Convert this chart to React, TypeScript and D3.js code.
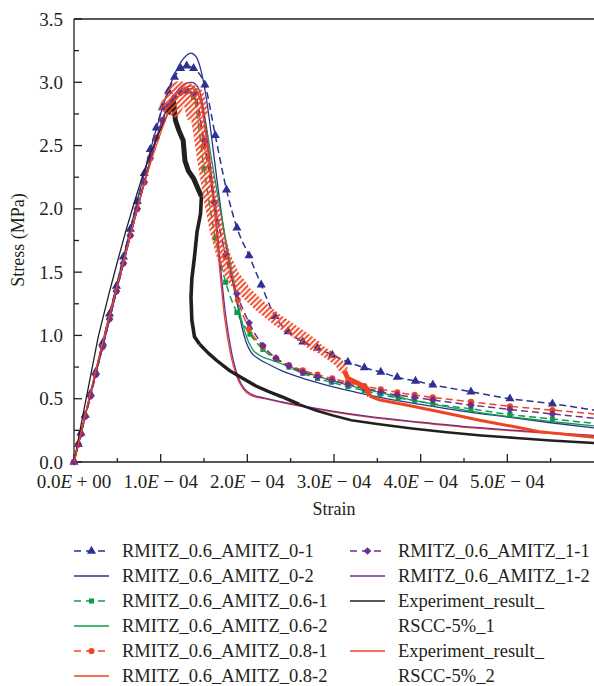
import React from 'react';
import * as d3 from 'd3';

type P = [number, number];

const W = 594;
const H = 686;

// strain in units of 1e-4, stress in MPa
const X_MAJOR = [0, 1, 2, 3, 4, 5];
const X_MINOR = [0.5, 1.5, 2.5, 3.5, 4.5, 5.5];
const Y_MAJOR = [0, 0.5, 1, 1.5, 2, 2.5, 3, 3.5];
const Y_MINOR = [0.25, 0.75, 1.25, 1.75, 2.25, 2.75, 3.25];

const RMITZ_0_1: P[] = [[0,0],[0.05,0.14],[0.08,0.23],[0.13,0.37],[0.19,0.54],[0.25,0.71],[0.33,0.94],[0.41,1.17],[0.49,1.39],[0.57,1.62],[0.65,1.84],[0.73,2.06],[0.81,2.28],[0.88,2.47],[0.95,2.64],[1.02,2.80],[1.09,2.93],[1.16,3.04],[1.23,3.11],[1.30,3.13],[1.38,3.11],[1.51,2.98],[1.63,2.58],[1.76,2.15],[1.88,1.85],[2.02,1.63],[2.16,1.40],[2.32,1.15],[2.47,1.03],[2.64,0.95],[2.81,0.90],[2.98,0.845],[3.16,0.79],[3.35,0.745],[3.54,0.71],[3.73,0.67],[3.94,0.64],[4.14,0.61],[4.58,0.555],[5.03,0.50],[5.52,0.46],[6.0,0.41]];
const RMITZ_0_2: P[] = [[0,0],[0.1,0.29],[0.2,0.57],[0.3,0.86],[0.4,1.14],[0.5,1.42],[0.6,1.70],[0.7,1.98],[0.8,2.25],[0.9,2.51],[1.0,2.75],[1.1,2.96],[1.2,3.12],[1.28,3.20],[1.35,3.23],[1.41,3.20],[1.47,3.08],[1.53,2.86],[1.60,2.50],[1.67,2.12],[1.74,1.78],[1.81,1.50],[1.88,1.26],[1.94,1.06],[1.99,0.94],[2.04,0.87],[2.12,0.82],[2.25,0.77],[2.4,0.72],[2.6,0.67],[2.9,0.61],[3.2,0.56],[3.5,0.515],[4.0,0.455],[4.5,0.40],[5.0,0.355],[5.5,0.31],[6.0,0.27]];
const RMITZ_06_1: P[] = [[0,0],[0.05,0.14],[0.08,0.22],[0.13,0.36],[0.19,0.52],[0.25,0.69],[0.33,0.91],[0.41,1.13],[0.49,1.35],[0.57,1.57],[0.65,1.79],[0.73,2.0],[0.81,2.21],[0.88,2.40],[0.95,2.56],[1.02,2.70],[1.09,2.81],[1.16,2.88],[1.23,2.92],[1.30,2.93],[1.38,2.88],[1.50,2.32],[1.63,1.77],[1.75,1.42],[1.88,1.18],[2.03,1.01],[2.18,0.89],[2.33,0.81],[2.48,0.75],[2.64,0.70],[2.81,0.66],[2.97,0.63],[3.16,0.595],[3.35,0.565],[3.53,0.535],[3.74,0.505],[3.93,0.485],[4.14,0.46],[4.58,0.42],[5.03,0.375],[5.52,0.34],[6.0,0.305]];
const RMITZ_06_2: P[] = [[0,0],[0.1,0.28],[0.2,0.56],[0.3,0.83],[0.4,1.10],[0.5,1.38],[0.6,1.65],[0.7,1.92],[0.8,2.18],[0.9,2.43],[1.0,2.66],[1.1,2.83],[1.2,2.92],[1.28,2.95],[1.36,2.95],[1.44,2.89],[1.51,2.72],[1.58,2.42],[1.66,2.10],[1.76,1.72],[1.86,1.38],[1.93,1.13],[1.99,0.99],[2.06,0.89],[2.15,0.84],[2.3,0.80],[2.5,0.75],[2.8,0.68],[3.1,0.62],[3.4,0.57],[3.8,0.505],[4.2,0.45],[4.6,0.40],[5.0,0.36],[5.5,0.32],[6.0,0.285]];
const RMITZ_08_1: P[] = [[0,0],[0.05,0.14],[0.08,0.22],[0.13,0.36],[0.19,0.52],[0.25,0.69],[0.33,0.91],[0.41,1.13],[0.49,1.35],[0.57,1.57],[0.65,1.79],[0.73,2.0],[0.81,2.21],[0.88,2.40],[0.95,2.56],[1.02,2.70],[1.09,2.81],[1.16,2.88],[1.23,2.92],[1.30,2.93],[1.38,2.90],[1.50,2.50],[1.62,2.05],[1.75,1.62],[1.89,1.28],[2.02,1.05],[2.18,0.91],[2.33,0.82],[2.48,0.765],[2.64,0.725],[2.81,0.69],[2.98,0.66],[3.16,0.63],[3.35,0.60],[3.54,0.575],[3.73,0.55],[3.93,0.53],[4.14,0.51],[4.58,0.475],[5.03,0.44],[5.52,0.41],[6.0,0.38]];
const RMITZ_08_2: P[] = [[0,0],[0.1,0.28],[0.2,0.56],[0.3,0.83],[0.4,1.10],[0.5,1.38],[0.6,1.65],[0.7,1.92],[0.8,2.18],[0.9,2.43],[1.0,2.66],[1.1,2.83],[1.2,2.92],[1.28,2.96],[1.35,2.97],[1.42,2.93],[1.48,2.78],[1.54,2.47],[1.58,2.22],[1.63,1.92],[1.68,1.53],[1.74,1.13],[1.81,0.84],[1.88,0.67],[1.95,0.58],[2.03,0.53],[2.2,0.50],[2.4,0.47],[2.7,0.43],[3.0,0.395],[3.4,0.355],[4.0,0.31],[4.6,0.27],[5.3,0.235],[6.0,0.205]];
const RMITZ_1_1: P[] = [[0,0],[0.05,0.14],[0.08,0.22],[0.13,0.36],[0.19,0.52],[0.25,0.69],[0.33,0.91],[0.41,1.13],[0.49,1.35],[0.57,1.57],[0.65,1.79],[0.73,2.0],[0.81,2.21],[0.88,2.40],[0.95,2.56],[1.02,2.70],[1.09,2.81],[1.16,2.88],[1.23,2.92],[1.30,2.93],[1.39,2.91],[1.50,2.54],[1.62,2.05],[1.75,1.64],[1.88,1.33],[2.02,1.10],[2.18,0.92],[2.33,0.82],[2.48,0.76],[2.64,0.71],[2.81,0.675],[2.98,0.645],[3.16,0.615],[3.35,0.585],[3.54,0.555],[3.73,0.53],[3.93,0.51],[4.14,0.49],[4.58,0.45],[5.03,0.415],[5.52,0.38],[6.0,0.345]];
const RMITZ_1_2: P[] = [[0,0],[0.1,0.28],[0.2,0.56],[0.3,0.83],[0.4,1.10],[0.5,1.38],[0.6,1.65],[0.7,1.92],[0.8,2.18],[0.9,2.43],[1.0,2.66],[1.1,2.84],[1.2,2.94],[1.28,2.99],[1.36,3.0],[1.43,2.96],[1.49,2.80],[1.55,2.48],[1.59,2.24],[1.64,1.94],[1.69,1.55],[1.75,1.16],[1.82,0.86],[1.90,0.66],[1.97,0.575],[2.05,0.535],[2.2,0.505],[2.4,0.475],[2.7,0.435],[3.0,0.40],[3.4,0.36],[4.0,0.315],[4.6,0.275],[5.3,0.24],[6.0,0.21]];
const EXP_1: P[] = [[0,0],[0.1,0.36],[0.2,0.71],[0.28,0.99],[0.4,1.32],[0.5,1.58],[0.6,1.83],[0.7,2.06],[0.8,2.28],[0.9,2.47],[1.0,2.63],[1.08,2.75],[1.15,2.84],[1.17,2.70],[1.21,2.62],[1.26,2.54],[1.28,2.38],[1.32,2.30],[1.38,2.24],[1.43,2.16],[1.47,2.10],[1.46,1.96],[1.42,1.82],[1.39,1.62],[1.36,1.45],[1.35,1.30],[1.36,1.12],[1.39,0.99],[1.45,0.93],[1.55,0.86],[1.65,0.80],[1.80,0.72],[1.95,0.66],[2.10,0.60],[2.25,0.555],[2.40,0.515],[2.60,0.455],[2.80,0.405],[3.0,0.365],[3.2,0.33],[3.5,0.30],[3.9,0.265],[4.3,0.235],[4.7,0.21],[5.1,0.19],[5.5,0.17],[6.0,0.15]];
const EXP_2: P[] = [[0,0],[0.1,0.29],[0.2,0.58],[0.3,0.86],[0.4,1.13],[0.5,1.40],[0.6,1.66],[0.7,1.92],[0.8,2.17],[0.9,2.40],[1.0,2.60],[1.08,2.75],[1.16,2.86],[1.22,2.92],[1.30,2.91],[1.38,2.88],[1.43,2.72],[1.50,2.40],[1.57,2.10],[1.65,1.82],[1.73,1.62],[1.83,1.47],[1.95,1.36],[2.15,1.23],[2.35,1.12],[2.57,1.02],[2.80,0.91],[2.95,0.84],[3.05,0.79],[3.12,0.72],[3.16,0.66],[3.28,0.62],[3.38,0.58],[3.41,0.52],[3.53,0.49],[3.91,0.44],[4.30,0.385],[4.68,0.33],[5.07,0.28],[5.37,0.24],[6.0,0.195]];

// drawing styles for the noisy experimental records (index ranges of the arrays above)
const EXP_1_STYLE = [
  { start: 0, end: 11, width: 1.3, hatch: false },
  { start: 11, end: 20, width: 5, hatch: false },
  { start: 20, end: 28, width: 3.6, hatch: false },
  { start: 28, end: 36, width: 3.4, hatch: false },
  { start: 36, end: 46, width: 2.6, hatch: false },
];
const EXP_2_STYLE = [
  { start: 0, end: 11, width: 1.3, hatch: false },
  { start: 11, end: 16, width: 22, hatch: true },
  { start: 16, end: 22, width: 14, hatch: true },
  { start: 22, end: 26, width: 12, hatch: true },
  { start: 26, end: 29, width: 9, hatch: true },
  { start: 29, end: 33, width: 5, hatch: false },
  { start: 33, end: 40, width: 3, hatch: false },
];

const BLUE = '#2e3192';
const GREEN = '#0a9e4a';
const RED = '#ef4423';
const PURPLE = '#6c2f91';
const BLACK = '#231f20';

type Series = { label: string[]; data: P[]; color: string; dashed: boolean; marker: string | null; col: number; row: number };

const SERIES: Series[] = [
  { label: ['RMITZ_0.6_AMITZ_0-1'], data: RMITZ_0_1, color: BLUE, dashed: true, marker: 'triangle', col: 0, row: 0 },
  { label: ['RMITZ_0.6_AMITZ_0-2'], data: RMITZ_0_2, color: BLUE, dashed: false, marker: null, col: 0, row: 1 },
  { label: ['RMITZ_0.6_AMITZ_0.6-1'], data: RMITZ_06_1, color: GREEN, dashed: true, marker: 'square', col: 0, row: 2 },
  { label: ['RMITZ_0.6_AMITZ_0.6-2'], data: RMITZ_06_2, color: GREEN, dashed: false, marker: null, col: 0, row: 3 },
  { label: ['RMITZ_0.6_AMITZ_0.8-1'], data: RMITZ_08_1, color: RED, dashed: true, marker: 'circle', col: 0, row: 4 },
  { label: ['RMITZ_0.6_AMITZ_0.8-2'], data: RMITZ_08_2, color: RED, dashed: false, marker: null, col: 0, row: 5 },
  { label: ['RMITZ_0.6_AMITZ_1-1'], data: RMITZ_1_1, color: PURPLE, dashed: true, marker: 'diamond', col: 1, row: 0 },
  { label: ['RMITZ_0.6_AMITZ_1-2'], data: RMITZ_1_2, color: PURPLE, dashed: false, marker: null, col: 1, row: 1 },
];

const EXPERIMENTS = [
  { label: ['Experiment_result_', 'RSCC-5%_1'], data: EXP_1, style: EXP_1_STYLE, color: BLACK, col: 1, row: 2 },
  { label: ['Experiment_result_', 'RSCC-5%_2'], data: EXP_2, style: EXP_2_STYLE, color: RED, col: 1, row: 4 },
];

const FONT = "'Liberation Serif', 'Times New Roman', serif";

function markerPath(kind: string): { d: string; rot: number } {
  if (kind === 'triangle') return { d: d3.symbol().type(d3.symbolTriangle).size(36)() as string, rot: 0 };
  if (kind === 'square') return { d: d3.symbol().type(d3.symbolSquare).size(26)() as string, rot: 0 };
  if (kind === 'circle') return { d: d3.symbol().type(d3.symbolCircle).size(30)() as string, rot: 0 };
  return { d: d3.symbol().type(d3.symbolSquare).size(30)() as string, rot: 45 };
}

function xLabel(v: number) {
  const mant = v.toFixed(1);
  const rest = v === 0 ? ' + 00' : ' \u2212 04';
  return { mant, rest };
}

export default function App() {
  const x = d3.scaleLinear().domain([0, 6]).range([74, 594]);
  const y = d3.scaleLinear().domain([0, 3.5]).range([462, 19]);
  const smooth = d3.line<P>().x(d => x(d[0])).y(d => y(d[1])).curve(d3.curveMonotoneX);
  const straight = d3.line<P>().x(d => x(d[0])).y(d => y(d[1])).curve(d3.curveLinear);

  const legX = [{ l0: 74, l1: 109, t: 122 }, { l0: 350, l1: 385, t: 398 }];
  const rowY = (r: number) => 551 + r * 25;

  return (
    <svg width={W} height={H} style={{ position: 'absolute', left: 0, top: 0, background: '#fff' }} fontFamily={FONT}>
      <defs>
        <pattern id="hatch" patternUnits="userSpaceOnUse" width="5.5" height="5.5">
          <path d="M-1,1 L1,-1 M0,5.5 L5.5,0 M4.5,6.5 L6.5,4.5" stroke={RED} strokeWidth="1.8" />
        </pattern>
      </defs>
      <rect x={0} y={0} width={W} height={H} fill="#fff" />

      {/* axes */}
      <g stroke={BLACK} strokeWidth={1.3} fill="none">
        <line x1={74} y1={19} x2={74} y2={462} />
        <line x1={74} y1={462} x2={594} y2={462} />
        <line x1={74} y1={19} x2={594} y2={19} />
        {X_MAJOR.map(v => <line key={'xm' + v} x1={x(v)} x2={x(v)} y1={462} y2={454} />)}
        {X_MINOR.map(v => <line key={'xn' + v} x1={x(v)} x2={x(v)} y1={462} y2={458} />)}
        {Y_MAJOR.map(v => <line key={'ym' + v} x1={74} x2={82} y1={y(v)} y2={y(v)} />)}
        {Y_MINOR.map(v => <line key={'yn' + v} x1={74} x2={79} y1={y(v)} y2={y(v)} />)}
      </g>
      <g fontSize={19} fill={BLACK}>
        {Y_MAJOR.map(v => (
          <text key={'yl' + v} x={63} y={y(v) + 6.5} textAnchor="end">{v.toFixed(1)}</text>
        ))}
        {X_MAJOR.map(v => {
          const l = xLabel(v);
          return (
            <text key={'xl' + v} x={x(v)} y={488} textAnchor="middle" xmlSpace="preserve">
              {l.mant}<tspan fontStyle="italic">E</tspan>{l.rest}
            </text>
          );
        })}
      </g>
      <text x={334} y={515} textAnchor="middle" fontSize={18} fill={BLACK}>Strain</text>
      <text transform="translate(24,240) rotate(-90)" textAnchor="middle" fontSize={18} fill={BLACK}>Stress (MPa)</text>

      {/* model series */}
      {SERIES.map((s, i) => (
        <g key={'s' + i}>
          <path d={smooth(s.data) as string} fill="none" stroke={s.color} strokeWidth={s.dashed ? 1.5 : 1.3}
            strokeDasharray={s.dashed ? '7 4' : undefined} />
          {s.marker && s.data.filter(d => d[0] < 5.9).map((d, j) => {
            const m = markerPath(s.marker as string);
            return <path key={j} d={m.d} fill={s.color} transform={`translate(${x(d[0])},${y(d[1])}) rotate(${m.rot})`} />;
          })}
        </g>
      ))}

      {/* experiments */}
      {EXPERIMENTS.map((e, i) => (
        <g key={'e' + i} fill="none" strokeLinejoin="round">
          {e.style.map((seg, j) => (
            <path key={j} d={straight(e.data.slice(seg.start, seg.end + 1)) as string}
              stroke={seg.hatch ? 'url(#hatch)' : e.color} strokeWidth={seg.width} />
          ))}
        </g>
      ))}

      {/* legend */}
      <g fontSize={18.5} fill={BLACK}>
        {SERIES.map((s, i) => {
          const lx = legX[s.col];
          const yy = rowY(s.row);
          const m = s.marker ? markerPath(s.marker) : null;
          return (
            <g key={'lg' + i}>
              <line x1={lx.l0} x2={lx.l1} y1={yy} y2={yy} stroke={s.color} strokeWidth={1.5}
                strokeDasharray={s.dashed ? '7 5' : undefined} />
              {m && <path d={m.d} fill={s.color} transform={`translate(${(lx.l0 + lx.l1) / 2},${yy}) rotate(${m.rot})`} />}
              <text x={lx.t} y={yy + 6}>{s.label[0]}</text>
            </g>
          );
        })}
        {EXPERIMENTS.map((e, i) => {
          const lx = legX[e.col];
          const yy = rowY(e.row);
          return (
            <g key={'le' + i}>
              <line x1={lx.l0} x2={lx.l1} y1={yy} y2={yy} stroke={e.color} strokeWidth={1.5} />
              {e.label.map((t, k) => <text key={k} x={lx.t} y={yy + 6 + k * 25}>{t}</text>)}
            </g>
          );
        })}
      </g>
    </svg>
  );
}
